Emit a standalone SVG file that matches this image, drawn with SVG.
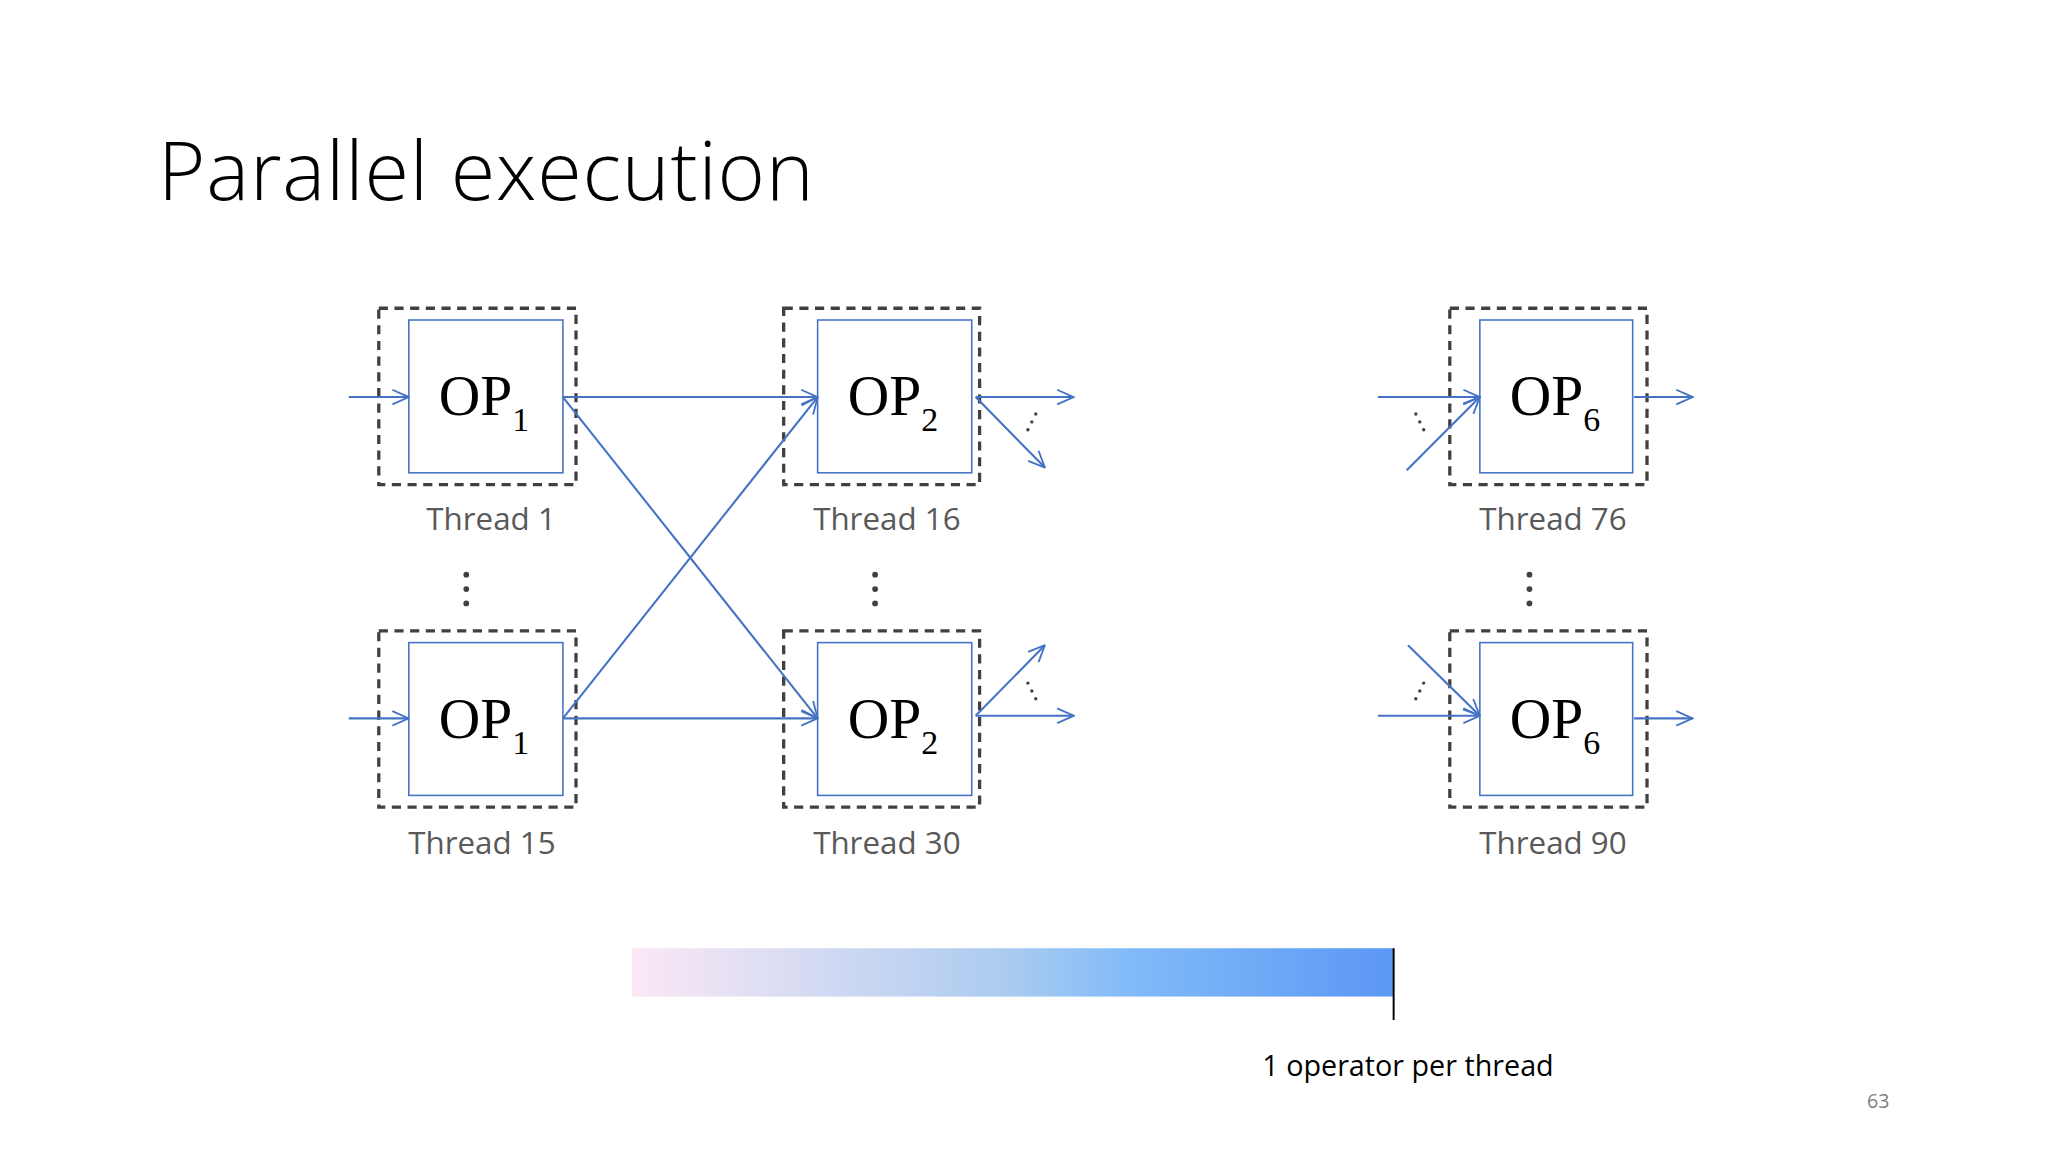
<svg xmlns="http://www.w3.org/2000/svg" width="2048" height="1152" viewBox="0 0 2048 1152">
<defs>
<style>
.db{fill:none;stroke:#404040;stroke-width:2.5;stroke-dasharray:7 5}
.ib{fill:#fff;stroke:#4472c4;stroke-width:1.2}
.op{font-family:"Liberation Serif",serif;font-size:44px;fill:#000}
.sub{font-size:26px}
.lb{font-family:"Open Sans","Liberation Sans",sans-serif;font-size:24px;fill:#595959;text-anchor:middle}
.c{stroke:#4472c4;stroke-width:1.6;fill:none;marker-end:url(#a)}
.dt{fill:#404040}
.sd{font-family:"Liberation Serif",serif;font-size:20px;fill:#404040}
</style>
<marker id="a" viewBox="0 0 20 20" refX="19" refY="10" markerWidth="14" markerHeight="14" markerUnits="userSpaceOnUse" orient="auto"><path d="M1,2 L19,10 L1,18" fill="none" stroke="#4472c4" stroke-width="2"/></marker>
<linearGradient id="g" x1="0" x2="1" y1="0" y2="0"><stop offset="0" stop-color="#fbe8f5"/><stop offset="0.5" stop-color="#a9cbf0"/><stop offset="0.65" stop-color="#82bbf8"/><stop offset="1" stop-color="#5b97f5"/></linearGradient>
</defs>
<rect width="2048" height="1152" fill="#fff"/>
<g transform="scale(1.30612)">
<text x="121" y="153" font-family="Open Sans,Liberation Sans,sans-serif" font-weight="300" font-size="62" textLength="502" fill="#000">Parallel execution</text>
<g id="t1"><rect class="db" x="290" y="236" width="151" height="135"/><rect class="ib" x="313" y="245" width="118" height="117"/><text class="op" x="336" y="318">OP<tspan class="sub" dy="12">1</tspan></text><text class="lb" x="376" y="406">Thread 1</text></g>
<g id="t15"><rect class="db" x="290" y="483" width="151" height="135"/><rect class="ib" x="313" y="492" width="118" height="117"/><text class="op" x="336" y="565">OP<tspan class="sub" dy="12">1</tspan></text><text class="lb" x="369" y="654">Thread 15</text></g>
<g id="t16"><rect class="db" x="600" y="236" width="150" height="135"/><rect class="ib" x="626" y="245" width="118" height="117"/><text class="op" x="649" y="318">OP<tspan class="sub" dy="12">2</tspan></text><text class="lb" x="679" y="406">Thread 16</text></g>
<g id="t30"><rect class="db" x="600" y="483" width="150" height="135"/><rect class="ib" x="626" y="492" width="118" height="117"/><text class="op" x="649" y="565">OP<tspan class="sub" dy="12">2</tspan></text><text class="lb" x="679" y="654">Thread 30</text></g>
<g id="t76"><rect class="db" x="1110" y="236" width="151" height="135"/><rect class="ib" x="1133" y="245" width="117" height="117"/><text class="op" x="1156" y="318">OP<tspan class="sub" dy="12">6</tspan></text><text class="lb" x="1189" y="406">Thread 76</text></g>
<g id="t90"><rect class="db" x="1110" y="483" width="151" height="135"/><rect class="ib" x="1133" y="492" width="117" height="117"/><text class="op" x="1156" y="565">OP<tspan class="sub" dy="12">6</tspan></text><text class="lb" x="1189" y="654">Thread 90</text></g>
<g id="vdots">
<circle class="dt" cx="357" cy="440" r="2.2"/><circle class="dt" cx="357" cy="451" r="2.2"/><circle class="dt" cx="357" cy="462" r="2.2"/>
<circle class="dt" cx="670" cy="440" r="2.2"/><circle class="dt" cx="670" cy="451" r="2.2"/><circle class="dt" cx="670" cy="462" r="2.2"/>
<circle class="dt" cx="1171" cy="440" r="2.2"/><circle class="dt" cx="1171" cy="451" r="2.2"/><circle class="dt" cx="1171" cy="462" r="2.2"/>
<circle class="dt" cx="787" cy="329" r="1.3"/><circle class="dt" cx="790" cy="323" r="1.3"/><circle class="dt" cx="793" cy="317" r="1.3"/>
<circle class="dt" cx="787" cy="523" r="1.3"/><circle class="dt" cx="790" cy="529" r="1.3"/><circle class="dt" cx="793" cy="535" r="1.3"/>
<circle class="dt" cx="1084" cy="317" r="1.3"/><circle class="dt" cx="1087" cy="323" r="1.3"/><circle class="dt" cx="1090" cy="329" r="1.3"/>
<circle class="dt" cx="1084" cy="535" r="1.3"/><circle class="dt" cx="1087" cy="529" r="1.3"/><circle class="dt" cx="1090" cy="523" r="1.3"/>
</g>
<g id="connectors">
<line class="c" x1="267" y1="304" x2="313" y2="304"/>
<line class="c" x1="267" y1="550" x2="313" y2="550"/>
<line class="c" x1="431" y1="304" x2="626" y2="304"/>
<line class="c" x1="431" y1="304" x2="626" y2="550"/>
<line class="c" x1="431" y1="550" x2="626" y2="304"/>
<line class="c" x1="431" y1="550" x2="626" y2="550"/>
<line class="c" x1="747" y1="304" x2="822" y2="304"/>
<line class="c" x1="747" y1="304" x2="800" y2="358"/>
<line class="c" x1="747" y1="548" x2="822" y2="548"/>
<line class="c" x1="747" y1="548" x2="800" y2="494"/>
<line class="c" x1="1055" y1="304" x2="1133" y2="304"/>
<line class="c" x1="1077" y1="360" x2="1133" y2="304"/>
<line class="c" x1="1251" y1="304" x2="1296" y2="304"/>
<line class="c" x1="1078" y1="494" x2="1133" y2="548"/>
<line class="c" x1="1055" y1="548" x2="1133" y2="548"/>
<line class="c" x1="1251" y1="550" x2="1296" y2="550"/>
</g>
<g id="scale">
<rect x="484" y="726" width="583" height="37" fill="url(#g)"/>
<line x1="1067" y1="726" x2="1067" y2="781" stroke="#000" stroke-width="1.5"/>
<text x="1078" y="824" text-anchor="middle" font-family="Open Sans,Liberation Sans,sans-serif" font-size="22" fill="#000">1 operator per thread</text>
</g>
<text x="1438" y="848" text-anchor="middle" font-family="Open Sans,Liberation Sans,sans-serif" font-size="15" fill="#808080">63</text>
</g>
</svg>
